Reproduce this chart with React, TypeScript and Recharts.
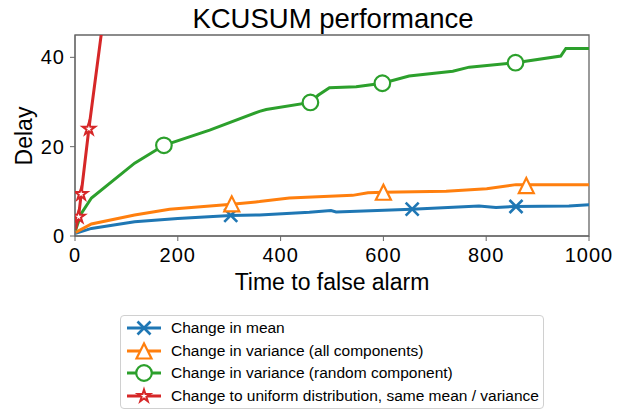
import { ComposedChart, Line, Scatter, XAxis, YAxis, ReferenceArea } from "recharts";

// KCUSUM delay vs. time to false alarm, one curve per kind of change.
const FONT = '"Liberation Sans", Arial, Helvetica, sans-serif';
const BLUE = "#1f77b4";
const ORANGE = "#ff7f0e";
const GREEN = "#2ca02c";
const RED = "#d62728";
const SPINE = "#666";

type Pair = [number, number];

const meanCurve: Pair[] = [
  [1, 0.6], [32, 1.7], [116, 3.2], [200, 3.9], [303, 4.6], [359, 4.7], [456, 5.3],
  [498, 5.7], [508, 5.4], [655, 6.0], [786, 6.7], [819, 6.4], [856, 6.6], [961, 6.7], [1000, 7.0],
];
const allVarCurve: Pair[] = [
  [1, 0.8], [32, 2.7], [116, 4.7], [184, 6.0], [305, 7.1], [359, 7.7], [417, 8.5],
  [540, 9.1], [570, 9.7], [600, 9.8], [722, 10.0], [801, 10.6], [858, 11.5], [1000, 11.5],
];
const randVarCurve: Pair[] = [
  [1, 1.3], [12, 5.0], [32, 8.5], [116, 16.3], [173, 20.3], [262, 23.7], [359, 27.9],
  [372, 28.3], [458, 29.9], [473, 31.5], [495, 33.2], [547, 33.4], [598, 34.2], [650, 35.8],
  [735, 36.9], [767, 37.8], [857, 38.8], [945, 40.3], [955, 42.0], [1000, 42.0],
];
const uniformCurve: Pair[] = [[1, 1.5], [7, 4.3], [12, 9.4], [27, 24.0], [60, 53.0]];

const meanMarks: Pair[] = [[303, 4.6], [656, 6.0], [858, 6.6]];
const allVarMarks: Pair[] = [[305, 7.2], [600, 9.8], [878, 11.3]];
const randVarMarks: Pair[] = [[173, 20.3], [458, 29.9], [598, 34.2], [857, 38.8]];
const uniformMarks: Pair[] = [[7, 4.3], [12, 9.4], [27, 24.0]];

const xTicks = [0, 200, 400, 600, 800, 1000];
const yTicks = [0, 20, 40];

const labels = [
  "Change in mean",
  "Change in variance (all components)",
  "Change in variance (random component)",
  "Change to uniform distribution, same mean / variance",
];

const rows = (p: Pair[]) => p.map(([t, d]) => ({ t, d }));

function XMark({ cx, cy }: any) {
  const r = 6.5;
  return (
    <g stroke={BLUE} strokeWidth={2.6}>
      <line x1={cx - r} y1={cy - r} x2={cx + r} y2={cy + r} />
      <line x1={cx - r} y1={cy + r} x2={cx + r} y2={cy - r} />
    </g>
  );
}

function TriMark({ cx, cy }: any) {
  const r = 7.5;
  return (
    <polygon
      points={`${cx},${cy - r} ${cx - r},${cy + r} ${cx + r},${cy + r}`}
      fill="#fff"
      stroke={ORANGE}
      strokeWidth={2.2}
      strokeLinejoin="miter"
    />
  );
}

function CircleMark({ cx, cy }: any) {
  return <circle cx={cx} cy={cy} r={7.8} fill="#fff" stroke={GREEN} strokeWidth={2.2} />;
}

function StarMark({ cx, cy }: any) {
  const R = 6.5;
  const r = R * 0.382;
  const pts: string[] = [];
  for (let i = 0; i < 10; i++) {
    const a = -Math.PI / 2 + (i * Math.PI) / 5;
    const rad = i % 2 === 0 ? R : r;
    pts.push(`${cx + rad * Math.cos(a)},${cy + rad * Math.sin(a)}`);
  }
  return <polygon points={pts.join(" ")} fill="#fff" stroke={RED} strokeWidth={2} />;
}

const series = [
  { color: BLUE, curve: meanCurve, marks: meanMarks, Mark: XMark },
  { color: ORANGE, curve: allVarCurve, marks: allVarMarks, Mark: TriMark },
  { color: GREEN, curve: randVarCurve, marks: randVarMarks, Mark: CircleMark },
  { color: RED, curve: uniformCurve, marks: uniformMarks, Mark: StarMark },
];

const tickStyle = { fontSize: 20, fill: "#000", fontFamily: FONT, letterSpacing: 1 };

export default function App() {
  return (
    <div style={{ position: "absolute", left: 0, top: 0, width: 624, height: 409, background: "#fff" }}>
      <ComposedChart width={624} height={409} margin={{ top: 35, right: 35, bottom: 113, left: 30 }}>
        <XAxis
          type="number"
          dataKey="t"
          domain={[0, 1000]}
          ticks={xTicks}
          allowDataOverflow
          stroke={SPINE}
          tickSize={5}
          tickMargin={7}
          height={60}
          tick={tickStyle}
        />
        <YAxis
          type="number"
          dataKey="d"
          domain={[0, 45]}
          ticks={yTicks}
          allowDataOverflow
          stroke={SPINE}
          tickSize={5}
          tickMargin={5}
          width={45}
          tick={tickStyle}
        />
        {series.map((s, i) => (
          <Line
            key={`l${i}`}
            data={rows(s.curve)}
            dataKey="d"
            stroke={s.color}
            strokeWidth={3}
            dot={false}
            activeDot={false}
            isAnimationActive={false}
          />
        ))}
        {series.map((s, i) => (
          <Scatter
            key={`s${i}`}
            data={rows(s.marks)}
            dataKey="d"
            shape={s.Mark}
            isAnimationActive={false}
          />
        ))}
        <ReferenceArea x1={0} x2={1000} y1={0} y2={45} fill="none" stroke={SPINE} strokeWidth={1.3} />
        <text x={333} y={28} textAnchor="middle" fontSize={27.5} fontFamily={FONT} fill="#000">
          KCUSUM performance
        </text>
        <text x={332} y={290} textAnchor="middle" fontSize={23} fontFamily={FONT} fill="#000">
          Time to false alarm
        </text>
        <text
          x={32}
          y={136}
          transform="rotate(-90 32 136)"
          textAnchor="middle"
          fontSize={23}
          fontFamily={FONT}
          fill="#000"
        >
          Delay
        </text>
      </ComposedChart>
      <div
        style={{
          position: "absolute",
          left: 120,
          top: 315,
          width: 422,
          height: 91,
          border: "1px solid #d0d0d0",
          borderRadius: 4,
          background: "#fff",
          boxSizing: "content-box",
          fontFamily: FONT,
          fontSize: 15.5,
          paddingTop: 1,
        }}
      >
        {series.map((s, i) => (
          <div key={i} style={{ display: "flex", alignItems: "center", height: 22.5 }}>
            <svg width={50} height={22} style={{ flex: "none" }}>
              <line x1={6} y1={11} x2={40} y2={11} stroke={s.color} strokeWidth={3} />
              <s.Mark cx={23} cy={11} />
            </svg>
            <span>{labels[i]}</span>
          </div>
        ))}
      </div>
    </div>
  );
}
